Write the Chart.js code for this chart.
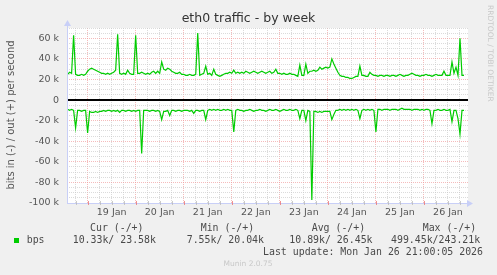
<!DOCTYPE html>
<html>
<head>
<meta charset="utf-8">
<script src="https://cdn.jsdelivr.net/npm/chart.js@4.4.1/dist/chart.umd.min.js"></script>
<style>
  html, body { margin: 0; padding: 0; background: #f0f0f0; }
  #wrap { position: relative; width: 497px; height: 275px; }
</style>
</head>
<body>
<div id="wrap"><canvas id="traffic" width="497" height="275"></canvas></div>
<script>
// hours are counted from 19 Jan 00:00, one value per hour
const firstHour = -10;

// out (+) traffic, kbit/s
const outKbps = [
  25, 27, 26, 63, 25, 24, 24, 25, 24, 25,
  28, 30, 31, 30, 29, 28, 27, 26, 26, 25,
  26, 25, 26, 27, 29, 64, 26, 25, 26, 25,
  29, 26, 25, 25, 63, 26, 26, 27, 26, 25,
  26, 25, 27, 28, 26, 28, 26, 37, 30, 29,
  31, 30, 28, 27, 26, 26, 27, 25, 25, 24,
  24, 25, 24, 24, 25, 65, 24, 25, 26, 33,
  25, 26, 24, 30, 25, 24, 23, 24, 25, 26,
  26, 27, 26, 29, 26, 27, 26, 27, 26, 28,
  27, 26, 27, 28, 27, 26, 27, 28, 27, 26,
  27, 28, 26, 27, 30, 26, 26, 25, 26, 25,
  25, 26, 25, 25, 24, 23, 34, 24, 24, 35,
  26, 28, 28, 29, 28, 29, 32, 30, 31, 32,
  31, 32, 40, 35, 31, 27, 24, 23, 23, 22,
  22, 21, 21, 22, 23, 23, 33, 24, 24, 23,
  23, 27, 25, 24, 24, 23, 24, 24, 23, 24,
  24, 23, 24, 24, 23, 24, 25, 24, 23, 24,
  24, 25, 26, 25, 24, 24, 23, 24, 24, 25,
  24, 24, 23, 24, 25, 24, 24, 24, 28, 24,
  24, 24, 37, 26, 32, 24, 60, 24, 24
];

// in (-) traffic, kbit/s
const inKbps = [
  -9, -10, -9, -10, -27, -10, -10, -11, -10, -10,
  -32, -11, -12, -12, -11, -12, -11, -11, -10, -11,
  -10, -10, -11, -10, -11, -10, -12, -10, -10, -11,
  -10, -10, -11, -10, -11, -10, -10, -52, -10, -10,
  -10, -11, -10, -10, -11, -10, -11, -19, -11, -11,
  -10, -15, -10, -10, -11, -10, -10, -11, -10, -10,
  -10, -11, -10, -13, -10, -10, -11, -10, -10, -19,
  -10, -9, -10, -9, -10, -9, -10, -10, -9, -10,
  -9, -10, -10, -31, -10, -9, -10, -10, -11, -10,
  -10, -9, -10, -11, -10, -10, -9, -10, -10, -11,
  -10, -9, -10, -10, -9, -10, -11, -10, -9, -10,
  -10, -9, -10, -10, -9, -10, -18, -10, -10, -20,
  -10, -11, -97, -11, -11, -12, -11, -12, -11, -11,
  -11, -11, -19, -14, -10, -10, -9, -10, -9, -10,
  -9, -10, -9, -10, -9, -10, -18, -10, -9, -10,
  -9, -10, -9, -10, -31, -9, -9, -10, -9, -9,
  -9, -10, -9, -9, -9, -10, -9, -8, -9, -9,
  -9, -9, -10, -9, -9, -9, -10, -9, -10, -9,
  -9, -10, -23, -10, -10, -9, -10, -10, -9, -10,
  -10, -9, -21, -10, -10, -18, -33, -10, -10
];

const dayLabels = ['19 Jan', '20 Jan', '21 Jan', '22 Jan', '23 Jan', '24 Jan', '25 Jan', '26 Jan'];

const legendHeads = ['Cur (-/+)', 'Min (-/+)', 'Avg (-/+)', 'Max (-/+)'];
const legendValues = ['10.33k/ 23.58k', '7.55k/ 20.04k', '10.89k/ 26.45k', '499.45k/243.21k'];

const GREEN = '#00cc00';
const MINOR = 'rgba(200,200,200,0.65)';
const MAJOR = 'rgba(240,150,150,0.65)';
const AXIS = '#c8cff7';

function toPoints(values) {
  return values.map((v, i) => ({ x: firstHour + i, y: v }));
}

function arrowUp(ctx, x, y) {
  ctx.beginPath();
  ctx.moveTo(x, y);
  ctx.lineTo(x - 3.5, y + 6);
  ctx.lineTo(x + 3.5, y + 6);
  ctx.closePath();
  ctx.fill();
}

function arrowRight(ctx, x, y) {
  ctx.beginPath();
  ctx.moveTo(x, y);
  ctx.lineTo(x - 6, y - 3.5);
  ctx.lineTo(x - 6, y + 3.5);
  ctx.closePath();
  ctx.fill();
}

const muninDecor = {
  id: 'muninDecor',
  beforeDraw(chart) {
    const { ctx, chartArea: a } = chart;
    ctx.save();
    ctx.fillStyle = '#ffffff';
    ctx.fillRect(a.left, a.top, a.right - a.left, a.bottom - a.top);
    ctx.restore();
  },
  beforeDatasetsDraw(chart) {
    const { ctx, chartArea: a, scales } = chart;
    const y0 = Math.round(scales.y.getPixelForValue(0));
    ctx.save();
    ctx.strokeStyle = '#000000';
    ctx.lineWidth = 2;
    ctx.beginPath();
    ctx.moveTo(a.left, y0);
    ctx.lineTo(a.right, y0);
    ctx.stroke();
    ctx.restore();
  },
  afterDraw(chart) {
    const { ctx, chartArea: a, scales } = chart;
    ctx.save();

    // axes with arrows
    ctx.strokeStyle = AXIS;
    ctx.fillStyle = AXIS;
    ctx.lineWidth = 1;
    ctx.beginPath();
    ctx.moveTo(a.left + 0.5, a.bottom);
    ctx.lineTo(a.left + 0.5, a.top - 3);
    ctx.moveTo(a.left, a.bottom + 0.5);
    ctx.lineTo(a.right + 3, a.bottom + 0.5);
    ctx.stroke();
    arrowUp(ctx, a.left + 0.5, a.top - 8);
    arrowRight(ctx, a.right + 5, a.bottom + 0.5);

    // small tick marks on the time axis
    scales.x.ticks.forEach((t) => {
      const x = Math.round(scales.x.getPixelForValue(t.value)) + 0.5;
      const major = t.value % 24 === 0;
      ctx.strokeStyle = major ? 'rgba(235,110,110,0.75)' : 'rgba(180,180,180,0.7)';
      ctx.beginPath();
      ctx.moveTo(x, a.bottom - 2);
      ctx.lineTo(x, a.bottom + 2);
      ctx.stroke();
    });

    // title
    ctx.fillStyle = '#333333';
    ctx.font = '12.5px "DejaVu Sans"';
    ctx.textAlign = 'center';
    ctx.textBaseline = 'middle';
    ctx.fillText('eth0 traffic - by week', 248.5, 19);

    // vertical axis title
    ctx.save();
    ctx.translate(11, 115);
    ctx.rotate(-Math.PI / 2);
    ctx.fillStyle = '#555555';
    ctx.font = '10px "DejaVu Sans"';
    ctx.fillText('bits in (-) / out (+) per second', 0, 0);
    ctx.restore();

    // rrdtool credit
    ctx.save();
    ctx.translate(490, 5);
    ctx.rotate(Math.PI / 2);
    ctx.fillStyle = '#c8c8c8';
    ctx.font = '7.5px "DejaVu Sans"';
    ctx.textAlign = 'left';
    ctx.fillText('RRDTOOL / TOBI OETIKER', 0, 0);
    ctx.restore();

    // legend
    ctx.fillStyle = '#4a4a4a';
    ctx.font = '9.9px "DejaVu Sans Mono"';
    ctx.textAlign = 'left';
    const headX = [90, 200.7, 311.7, 422.7];
    const valX = [72.7, 186.7, 289.3, 391];
    legendHeads.forEach((t, i) => ctx.fillText(t, headX[i], 228));
    ctx.fillText('bps', 26.7, 240.5);
    legendValues.forEach((t, i) => ctx.fillText(t, valX[i], 240.5));
    ctx.textAlign = 'right';
    ctx.fillText('Last update: Mon Jan 26 21:00:05 2026', 483, 252);

    ctx.fillStyle = GREEN;
    ctx.fillRect(14, 238, 5, 5);

    ctx.fillStyle = '#c8c8c8';
    ctx.font = '7.5px "DejaVu Sans"';
    ctx.textAlign = 'center';
    ctx.fillText('Munin 2.0.75', 248, 264);

    ctx.restore();
  }
};

const ctx = document.getElementById('traffic').getContext('2d');
new Chart(ctx, {
  type: 'line',
  data: {
    datasets: [{
      label: 'out',
      data: toPoints(outKbps),
      borderColor: GREEN,
      borderWidth: 1.2,
      pointRadius: 0,
      tension: 0,
      fill: false
    }, {
      label: 'in',
      data: toPoints(inKbps),
      borderColor: GREEN,
      borderWidth: 1.2,
      pointRadius: 0,
      tension: 0,
      fill: false
    }]
  },
  options: {
    responsive: false,
    animation: false,
    layout: { padding: { top: 28, right: 29, left: 0, bottom: 0 } },
    plugins: {
      legend: { display: false },
      title: { display: false },
      tooltip: { enabled: false }
    },
    scales: {
      x: {
        type: 'linear',
        min: -10.3,
        max: 190,
        afterFit: (scale) => { scale.height = 72; },
        afterBuildTicks: (scale) => {
          const ticks = [];
          for (let h = -6; h <= 186; h += 6) ticks.push({ value: h });
          scale.ticks = ticks;
        },
        ticks: {
          autoSkip: false,
          maxRotation: 0,
          padding: 4,
          color: '#555555',
          font: { family: 'DejaVu Sans', size: 9.5 },
          callback: (v) => (((v % 24) + 24) % 24 === 12 ? dayLabels[(v - 12) / 24] || '' : '')
        },
        grid: {
          drawTicks: false,
          color: (c) => (c.tick && c.tick.value % 24 === 0 ? MAJOR : MINOR),
          lineWidth: 1
        },
        border: { display: false, dash: [1, 1] }
      },
      y: {
        min: -100,
        max: 70,
        afterFit: (scale) => { scale.width = 67; },
        afterBuildTicks: (scale) => {
          const ticks = [];
          for (let v = -100; v <= 70; v += 5) ticks.push({ value: v });
          scale.ticks = ticks;
        },
        ticks: {
          autoSkip: false,
          padding: 8,
          color: '#555555',
          font: { family: 'DejaVu Sans', size: 9.5 },
          callback: (v) => (v % 20 === 0 ? (v === 0 ? '0' : v + ' k') : '')
        },
        grid: {
          drawTicks: false,
          color: (c) => (c.tick && c.tick.value % 20 === 0 ? MAJOR : MINOR),
          lineWidth: 1
        },
        border: { display: false, dash: [1, 1] }
      }
    }
  },
  plugins: [muninDecor]
});
</script>
</body>
</html>
